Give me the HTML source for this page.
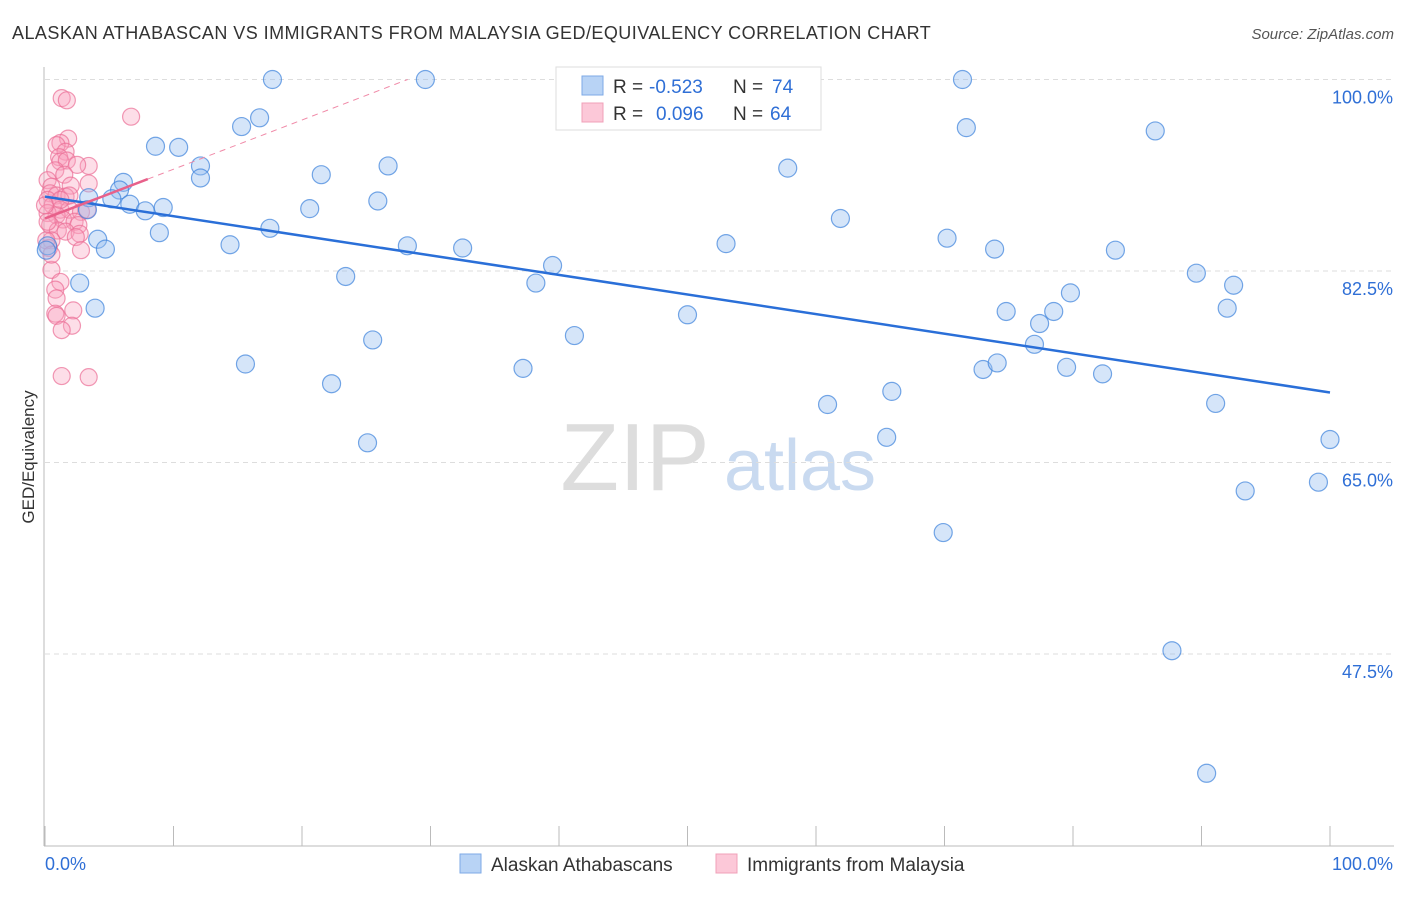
<!DOCTYPE html>
<html><head><meta charset="utf-8"><style>
body{margin:0;background:#fff;font-family:"Liberation Sans",sans-serif;}
svg text{font-family:"Liberation Sans",sans-serif;}
</style></head><body>
<svg id="chart" width="1406" height="892" xmlns="http://www.w3.org/2000/svg">
<text x="12" y="39" font-size="18" letter-spacing="0.45" fill="#333">ALASKAN ATHABASCAN VS IMMIGRANTS FROM MALAYSIA GED/EQUIVALENCY CORRELATION CHART</text>
<text x="1394" y="39" font-size="15" fill="#555" text-anchor="end" font-style="italic">Source: ZipAtlas.com</text>
<text transform="translate(34,457) rotate(-90)" font-size="17" fill="#333" text-anchor="middle">GED/Equivalency</text>
<g><text x="635" y="490" font-size="96" fill="#ddd" text-anchor="middle" font-family="Liberation Serif">ZIP</text><text x="800" y="490" font-size="72" fill="#c9daf0" text-anchor="middle">atlas</text></g>
<g id="grid"></g><g id="axes"></g><g id="pink"></g><g id="blue"></g><g id="trends"></g>
<g>
<rect x="556" y="67" width="265" height="63" fill="#fff" stroke="#ddd"/>
<rect x="582" y="76" width="21" height="19" fill="#b8d3f5" stroke="#7ea9e6"/>
<rect x="582" y="103" width="21" height="19" fill="#fcc8d8" stroke="#f0a0b8"/>
<text x="613" y="93" font-size="19" fill="#333">R =</text>
<text x="649" y="93" font-size="19" fill="#2f6fd6">-0.523</text>
<text x="733" y="93" font-size="19" fill="#333">N =</text>
<text x="772" y="93" font-size="19" fill="#2f6fd6">74</text>
<text x="613" y="120" font-size="19" fill="#333">R =</text>
<text x="656" y="120" font-size="19" fill="#2f6fd6">0.096</text>
<text x="733" y="120" font-size="19" fill="#333">N =</text>
<text x="770" y="120" font-size="19" fill="#2f6fd6">64</text>
</g>
<g>
<rect x="460" y="854" width="21" height="19" fill="#b8d3f5" stroke="#7ea9e6"/>
<text x="491" y="871" font-size="19" fill="#333">Alaskan Athabascans</text>
<rect x="716" y="854" width="21" height="19" fill="#fcc8d8" stroke="#f0a0b8"/>
<text x="747" y="871" font-size="19" fill="#333">Immigrants from Malaysia</text>
</g>
</svg>
<script>
const yTicks=[100,82.5,65,47.5];
const yTickLabels=["100.0%","82.5%","65.0%","47.5%"];
const blueX=[17.7,29.6,71.4,16.7,15.3,71.7,86.4,8.6,10.4,12.1,12.1,26.7,21.5,57.8,6.1,5.8,5.2,6.6,7.8,9.2,20.6,25.9,61.9,3.4,3.3,17.5,8.9,4.1,4.7,14.4,28.2,32.5,53.0,70.2,73.9,83.3,39.5,23.4,38.2,2.7,3.9,89.6,92.5,79.8,74.8,78.5,92.0,77.4,50.0,41.2,25.5,77.0,15.6,37.2,73.0,74.1,79.5,82.3,22.3,65.9,60.9,91.1,65.5,25.1,100.0,99.1,93.4,69.9,87.7,90.4,0.2,0.1];
const blueY=[100,100,100,96.5,95.7,95.6,95.3,93.9,93.8,92.1,91.0,92.1,91.3,91.9,90.6,89.9,89.1,88.6,88.0,88.3,88.2,88.9,87.3,89.2,88.1,86.4,86.0,85.4,84.5,84.9,84.8,84.6,85.0,85.5,84.5,84.4,83.0,82.0,81.4,81.4,79.1,82.3,81.2,80.5,78.8,78.8,79.1,77.7,78.5,76.6,76.2,75.8,74.0,73.6,73.5,74.1,73.7,73.1,72.2,71.5,70.3,70.4,67.3,66.8,67.1,63.2,62.4,58.6,47.8,36.6,84.8,84.4];
const pinkX=[1.3,1.7,6.7,1.8,1.2,0.9,1.6,1.1,1.2,1.7,3.4,2.5,0.8,1.5,0.2,0.5,2.0,3.4,0.4,0.9,1.6,0.2,0.6,1.2,1.9,0.2,0.9,2.8,3.3,1.4,2.3,0.4,2.6,1.0,1.6,2.7,2.4,0.5,0.3,2.8,0.5,1.2,0.8,0.9,2.2,0.8,0.9,2.1,1.3,1.3,3.4,0.2,0.1,0.5,1.9,0.0,1.2];
const pinkY=[98.3,98.1,96.6,94.6,94.2,94.0,93.4,92.9,92.5,92.6,92.1,92.2,91.7,91.3,90.8,90.2,90.3,90.5,89.6,89.4,89.3,89.0,88.5,88.1,88.1,87.8,87.6,87.9,88.1,87.2,87.0,86.7,86.7,86.2,86.1,85.9,85.6,85.3,84.6,84.4,82.6,81.5,80.8,80.0,78.9,78.6,78.4,77.5,77.1,72.9,72.8,87.0,85.3,84.0,89.4,88.5,89.0];
const blueTrend=[89.3,71.4];
const pinkTrend=[87.3,0.45];
const NS="http://www.w3.org/2000/svg";
const X0=45,X1=1330,Y100=79.5,PX_PER=10.943;
const sx=v=>X0+(X1-X0)*v/100;
const sy=v=>Y100+(100-v)*PX_PER;
function mk(tag,attrs,parent){const e=document.createElementNS(NS,tag);for(const k in attrs)e.setAttribute(k,attrs[k]);document.getElementById(parent).appendChild(e);return e;}
yTicks.forEach((t,i)=>{
 const l=mk('line',{x1:45,x2:1394,y1:sy(t),y2:sy(t),stroke:'#ddd','stroke-dasharray':'5,4'},'grid');
 
 
 const tx=mk('text',{x:1393,y:sy(t)+24,'font-size':18,fill:'#2f6fd6','text-anchor':'end'},'grid');
 tx.textContent=yTickLabels[i];
 
 
});
const ax=mk('line',{x1:44,x2:44,y1:67,y2:846,stroke:'#bbb'},'axes');


const bx=mk('line',{x1:44,x2:1394,y1:846,y2:846,stroke:'#bbb'},'axes');


for(let i=0;i<=10;i++){const t=mk('line',{x1:sx(i*10),x2:sx(i*10),y1:826,y2:846,stroke:'#bbb'},'axes');
 
 }
const xl=mk('text',{x:45,y:870,'font-size':18,fill:'#2f6fd6'},'axes');xl.textContent='0.0%';


const xr=mk('text',{x:1393,y:870,'font-size':18,fill:'#2f6fd6','text-anchor':'end'},'axes');xr.textContent='100.0%';


pinkX.forEach((v,i)=>{const c=mk('circle',{cx:sx(v),cy:sy(pinkY[i]),r:8.5,fill:'rgba(248,160,190,0.35)',stroke:'rgba(235,110,150,0.7)','stroke-width':1.2},'pink');
 
 });
blueX.forEach((v,i)=>{const c=mk('circle',{cx:sx(v),cy:sy(blueY[i]),r:9,fill:'rgba(150,190,240,0.4)',stroke:'rgba(60,130,220,0.7)','stroke-width':1.2},'blue');
 
 });
const bt=mk('line',{x1:sx(0),y1:sy(blueTrend[0]),x2:sx(100),y2:sy(blueTrend[1]),stroke:'#2a6fd8','stroke-width':2.5},'trends');


const pEnd=(100-pinkTrend[0])/pinkTrend[1];
const pd=mk('line',{x1:sx(8),y1:sy(pinkTrend[0]+8*pinkTrend[1]),x2:sx(pEnd),y2:sy(100),stroke:'#f08aa8','stroke-width':1,'stroke-dasharray':'6,5'},'trends');


const ps=mk('line',{x1:sx(0),y1:sy(pinkTrend[0]),x2:sx(8),y2:sy(pinkTrend[0]+8*pinkTrend[1]),stroke:'#e8608a','stroke-width':2.5},'trends');


</script>
</body></html>
